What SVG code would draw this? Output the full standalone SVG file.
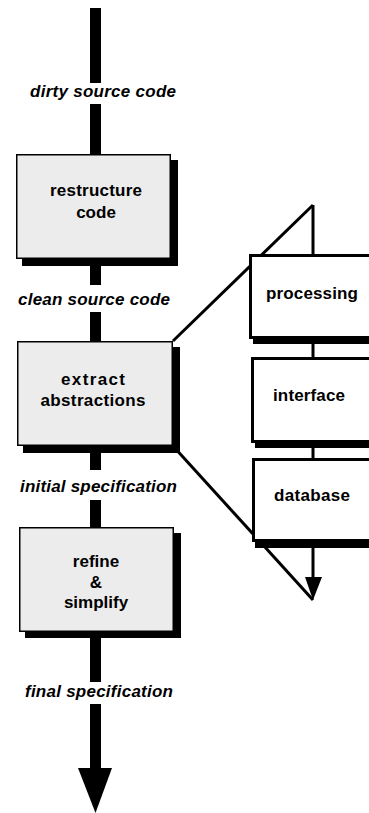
<svg xmlns="http://www.w3.org/2000/svg" width="369" height="813" viewBox="0 0 369 813">
<style>
.spine{fill:#000}
.thin{stroke:#000;stroke-width:3;fill:none}
.shadow{fill:#000}
.lbox{fill:#ececec;stroke:#000;stroke-width:1.5}
.rbox{fill:#fff;stroke:#000;stroke-width:3}
.lbl{font-family:"Liberation Sans",Arial,sans-serif;font-weight:bold;font-style:italic;font-size:17px;fill:#000}
.txt{font-family:"Liberation Sans",Arial,sans-serif;font-weight:bold;font-size:17px;fill:#000;text-anchor:middle}
</style>
<rect width="369" height="813" fill="#fff"/>
<g id="connectors">
  <rect class="spine" x="90" y="8" width="11" height="75"/>
  <rect class="spine" x="90" y="104" width="11" height="52"/>
  <rect class="spine" x="90" y="262" width="11" height="23"/>
  <rect class="spine" x="90" y="312" width="11" height="31"/>
  <rect class="spine" x="90" y="450" width="11" height="20"/>
  <rect class="spine" x="90" y="500" width="11" height="29"/>
  <rect class="spine" x="90" y="634" width="11" height="48"/>
  <rect class="spine" x="90" y="704" width="11" height="66"/>
  <polygon class="spine" points="78,768 112,768 95.5,813"/>
  <line class="thin" x1="173" y1="341" x2="313" y2="205"/>
  <line class="thin" x1="313" y1="205" x2="313" y2="256"/>
  <line class="thin" x1="313" y1="342" x2="313" y2="358"/>
  <line class="thin" x1="313" y1="446" x2="313" y2="459"/>
  <line class="thin" x1="313" y1="546" x2="313" y2="578"/>
  <polygon class="spine" points="305,577 322,577 313,600"/>
  <line class="thin" x1="173" y1="446" x2="313" y2="600"/>
</g>
<g id="label-dirty"><text class="lbl" x="30" y="97" textLength="146">dirty source code</text></g>
<g id="label-clean"><text class="lbl" x="18" y="305" textLength="152">clean source code</text></g>
<g id="label-initial"><text class="lbl" x="20" y="492" textLength="157">initial specification</text></g>
<g id="label-final"><text class="lbl" x="25" y="697" textLength="148">final specification</text></g>
<g id="restructure">
  <rect class="shadow" x="22" y="160" width="156" height="106"/>
  <rect class="lbox" x="16.75" y="154.75" width="153.5" height="103.5"/>
  <text class="txt" x="96" y="196" textLength="92">restructure</text>
  <text class="txt" x="96" y="218">code</text>
</g>
<g id="extract">
  <rect class="shadow" x="23" y="347" width="157" height="106"/>
  <rect class="lbox" x="17.75" y="341.75" width="154.5" height="103.5"/>
  <text class="txt" x="93" y="385" textLength="64">extract</text>
  <text class="txt" x="93" y="406" textLength="105">abstractions</text>
</g>
<g id="refine">
  <rect class="shadow" x="25" y="533" width="156" height="105"/>
  <rect class="lbox" x="19.75" y="527.75" width="153.5" height="103.5"/>
  <text class="txt" x="96" y="567">refine</text>
  <text class="txt" x="96" y="588">&amp;</text>
  <text class="txt" x="96" y="608">simplify</text>
</g>
<g id="processing">
  <rect class="shadow" x="253" y="259" width="130" height="85"/>
  <rect class="rbox" x="250.5" y="255.5" width="130" height="82"/>
  <text class="txt" x="312" y="299" textLength="92">processing</text>
</g>
<g id="interface">
  <rect class="shadow" x="255" y="362" width="130" height="86"/>
  <rect class="rbox" x="252.5" y="358.5" width="130" height="83"/>
  <text class="txt" x="309" y="401" textLength="72">interface</text>
</g>
<g id="database">
  <rect class="shadow" x="255" y="463" width="130" height="85"/>
  <rect class="rbox" x="253.5" y="459.5" width="130" height="81"/>
  <text class="txt" x="312" y="501" textLength="76">database</text>
</g>
</svg>
